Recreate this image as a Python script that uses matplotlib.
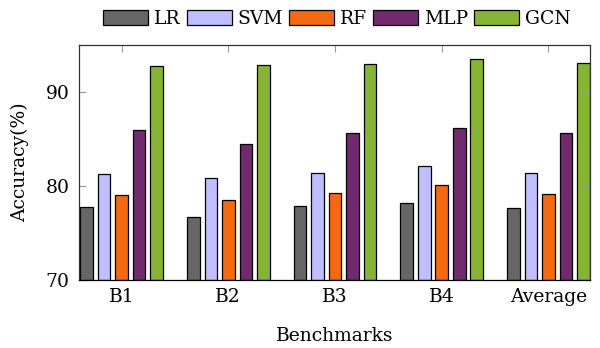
import matplotlib
matplotlib.use("Agg")
import matplotlib.pyplot as plt
import numpy as np

categories = ["B1", "B2", "B3", "B4", "Average"]
models = ["LR", "SVM", "RF", "MLP", "GCN"]
lr = [77.8, 76.7, 77.9, 78.2, 77.7]
svm = [81.3, 80.9, 81.4, 82.1, 81.4]
rf = [79.0, 78.5, 79.3, 80.1, 79.2]
mlp = [86.0, 84.5, 85.6, 86.2, 85.6]
gcn = [92.8, 92.9, 93.0, 93.5, 93.1]
series = [lr, svm, rf, mlp, gcn]
colors = ["#666666", "#bfbfff", "#f46a12", "#722a6e", "#86b535"]

FS = 13.5
plt.rcParams['font.family'] = ['DejaVu Serif']
plt.rcParams['font.size'] = FS

fig = plt.figure(figsize=(6.0, 3.48), dpi=100)
ax = fig.add_axes([79/600, 1-280/348, (590-79)/600, (280-45)/348])

x = np.arange(len(categories))
pitch = 0.164
width = 0.118
for i, (vals, c, m) in enumerate(zip(series, colors, models)):
    ax.bar(x + (i - 2) * pitch, np.array(vals) - 70, bottom=70, width=width,
           color=c, edgecolor="black", linewidth=0.9, label=m)

ax.set_xlim(-0.4, 4.39)
ax.set_ylim(70, 95)
ax.set_yticks([70, 80, 90])
ax.set_xticks(x)
ax.set_xticklabels(categories)
ax.tick_params(axis='both', direction='in', color='#999999', length=5, width=0.8,
               labelsize=FS)
ax.tick_params(axis='y', right=True, pad=7)
ax.tick_params(axis='x', top=True, bottom=False, pad=6)
for s in ax.spines.values():
    s.set_linewidth(0.9)
    s.set_color('#333333')
ax.spines['bottom'].set_color('black')

ax.set_ylabel("Accuracy(%)", fontsize=FS, labelpad=12)
ax.set_xlabel("Benchmarks", fontsize=FS, labelpad=15)

leg = fig.legend(loc='center', bbox_to_anchor=(337/600, 1-19/348), ncol=5, frameon=False,
                 handlelength=2.4, handleheight=0.8, handletextpad=0.32, columnspacing=0.32,
                 fontsize=FS, borderpad=0)

fig.savefig("out.png", dpi=100)
